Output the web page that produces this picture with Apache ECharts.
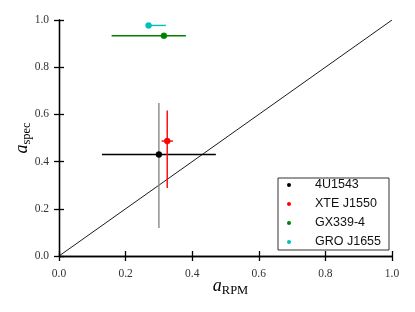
<!DOCTYPE html>
<html>
<head>
<meta charset="utf-8">
<script src="https://cdn.jsdelivr.net/npm/echarts@6/dist/echarts.min.js"></script>
<style>
html,body{margin:0;padding:0;background:#fff;}
#chart{width:415px;height:312px;}
</style>
</head>
<body>
<div id="chart"></div>
<script>
// ---- data ----
const sources = ['4U1543', 'XTE J1550', 'GX339-4', 'GRO J1655'];
const aRPM    = [0.300, 0.325, 0.315, 0.269];
const aSpec   = [0.430, 0.487, 0.933, 0.977];
const xErrLo  = [0.171, 0.017, 0.157, 0.000];
const xErrHi  = [0.171, 0.017, 0.066, 0.052];
const yErrLo  = [0.311, 0.199, 0.000, 0.000];
const yErrHi  = [0.218, 0.129, 0.000, 0.000];
const tickValues = [0.0, 0.2, 0.4, 0.6, 0.8, 1.0];
const diagonal = [[0, 0], [1, 1]];

// ---- style ----
const colors  = ['#000000', '#ff0000', '#008000', '#00bfbf'];
const yBarColors = ['#888888', '#ff0000', '#008000', '#00bfbf'];
const serif = '"Liberation Serif", "DejaVu Serif", serif';

const chart = echarts.init(document.getElementById('chart'), null, {renderer: 'canvas'});

function axisCommon() {
  return {
    type: 'value', min: 0, max: 1, interval: 0.2,
    axisLine: {show: true, lineStyle: {color: '#000', width: 1.3}},
    axisTick: {show: true, inside: true, length: 5, lineStyle: {color: '#000', width: 1.3}},
    splitLine: {show: false},
  };
}

const series = [];
series.push({
  type: 'line', data: diagonal, showSymbol: false, symbol: 'none',
  lineStyle: {color: '#000', width: 0.9}, silent: true, z: 1
});
sources.forEach((name, i) => {
  series.push({
    name: name, type: 'custom', z: 2,
    renderItem: function (params, api) {
      const x = api.value(0), y = api.value(1);
      const l = api.coord([x - api.value(2), y]);
      const r = api.coord([x + api.value(3), y]);
      const b = api.coord([x, y - api.value(4)]);
      const t = api.coord([x, y + api.value(5)]);
      const children = [];
      children.push({type: 'line', shape: {x1: l[0], y1: l[1], x2: r[0], y2: r[1]},
        style: {stroke: colors[i], lineWidth: 1.4}});
      if (api.value(4) + api.value(5) > 0) {
        children.push({type: 'line', shape: {x1: b[0], y1: b[1], x2: t[0], y2: t[1]},
          style: {stroke: yBarColors[i], lineWidth: 1.4}});
      }
      return {type: 'group', children: children};
    },
    data: [[aRPM[i], aSpec[i], xErrLo[i], xErrHi[i], yErrLo[i], yErrHi[i]]],
    itemStyle: {color: colors[i]},
    encode: {x: 0, y: 1},
    silent: true
  });
  series.push({
    name: name, type: 'scatter', z: 3, symbol: 'circle', symbolSize: 6,
    data: [[aRPM[i], aSpec[i]]],
    itemStyle: {color: colors[i], borderColor: colors[i], borderWidth: 0.5, opacity: 1},
    silent: true
  });
});

const nameRich = {
  a: {fontFamily: serif, fontStyle: 'italic', fontSize: 18, color: '#000', lineHeight: 20, verticalAlign: 'bottom'},
  s: {fontFamily: serif, fontSize: 12.5, color: '#000', lineHeight: 20, verticalAlign: 'bottom', padding: [0, 0, -2, 0]}
};

const option = {
  animation: false,
  backgroundColor: '#fff',
  grid: {left: 59, right: 23, top: 20, bottom: 56, show: false, outerBoundsMode: 'none', containLabel: false},
  legend: {
    data: sources.map(s => ({name: s, icon: 'circle'})),
    orient: 'vertical',
    left: 278, top: 178,
    itemWidth: 20, itemHeight: 4,
    itemGap: 5,
    padding: [0, 8, 1, 9],
    borderColor: '#333', borderWidth: 1,
    backgroundColor: '#fff',
    textStyle: {fontFamily: '"Liberation Sans", Arial, sans-serif', fontSize: 12.5, color: '#111', lineHeight: 14, padding: [0, 0, 0, 11]},
    selectedMode: false
  },
  xAxis: [
    Object.assign(axisCommon(), {
      position: 'bottom',
      axisLabel: {show: true, fontFamily: serif, fontSize: 11.5, color: '#333', margin: 12,
        formatter: v => v.toFixed(1)},
      name: '{a|a}{s|RPM}', nameLocation: 'middle', nameGap: 19, nameMoveOverlap: false,
      nameTextStyle: {padding: [0, 0, 0, 10], rich: nameRich}
    }),
    Object.assign(axisCommon(), {position: 'top', axisLabel: {show: false}})
  ],
  yAxis: [
    Object.assign(axisCommon(), {
      position: 'left',
      axisLabel: {show: true, fontFamily: serif, fontSize: 11.5, color: '#333', margin: 10,
        formatter: v => v.toFixed(1)},
      name: '{a|a}{s|spec}', nameLocation: 'middle', nameGap: 28, nameRotate: 90, nameMoveOverlap: false,
      nameTextStyle: {rich: nameRich}
    }),
    Object.assign(axisCommon(), {position: 'right', axisLabel: {show: false}})
  ],
  series: series
};
chart.setOption(option);
</script>
</body>
</html>
